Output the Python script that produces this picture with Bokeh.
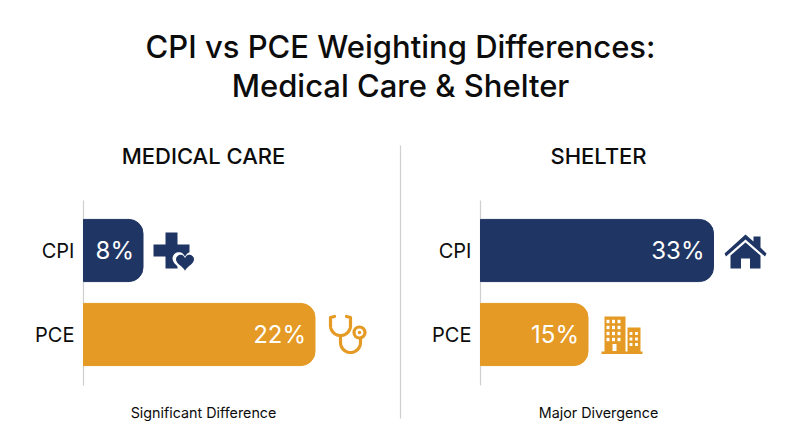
import numpy as np
from bokeh.core.properties import value
from bokeh.embed import file_html
from bokeh.resources import INLINE
from bokeh.plotting import figure
from bokeh.models import Range1d, LinearAxis, FixedTicker

FONT = "Inter"
FONT_M = "Inter Medium"
NAVY = "#1f3564"
ORANGE = "#e49a24"
GREY = "#cfcfcf"
INK = "#0c0c0c"

chart_title = ["CPI vs PCE Weighting Differences:", "Medical Care & Shelter"]
categories = ["PCE", "CPI"]
colors = [ORANGE, NAVY]
medical_values = [22, 8]
shelter_values = [15, 33]
panel_titles = ["MEDICAL CARE", "SHELTER"]
panel_notes = ["Significant Difference", "Major Divergence"]

W, H = 800, 447
p = figure(width=W, height=H, output_backend="svg", toolbar_location=None,
           x_range=Range1d(0, W), y_range=Range1d(H, 0),
           x_axis_type=None, y_axis_type=None, min_border=0,
           outline_line_color=None, background_fill_color="white", border_fill_color="white")
p.grid.visible = False


def value_range(v_lo, px_lo, v_hi, px_hi):
    k = (px_hi - px_lo) / (v_hi - v_lo)
    return Range1d(v_lo - px_lo / k, v_lo + (W - px_lo) / k)


p.extra_x_ranges = {
    "medical": value_range(8, 142.5, 22, 314.5),
    "shelter": value_range(15, 587.5, 33, 713),
}
k = 84
p.extra_y_ranges = {"cat": Range1d((334 - H) / k, 334 / k)}


def txt(x, y, s, size, color=INK, align="center", font=FONT_M, **kw):
    p.text(x=x, y=y, text=s, text_font=value(font), text_font_size=size, text_color=color,
           text_align=align, text_baseline="middle", **kw)


def panel(values, range_name, axis_x, note, title, cx):
    r = p.extra_x_ranges[range_name]
    scale = W / (r.end - r.start)
    base = r.start + axis_x / scale
    idx = list(range(len(categories)))
    p.hbar(y=idx, left=base, right=values, height=0.74, color=colors,
           x_range_name=range_name, y_range_name="cat", border_radius=(0, 14, 14, 0))
    ax = LinearAxis(y_range_name="cat", fixed_location=axis_x, bounds=(-0.607, 1.595),
                    ticker=FixedTicker(ticks=idx),
                    major_label_overrides={i: c for i, c in enumerate(categories)},
                    major_tick_line_color=None, minor_tick_line_color=None,
                    axis_line_color=GREY, axis_line_width=1.2, level="underlay",
                    major_label_text_font=FONT, major_label_text_font_size="20px",
                    major_label_text_color=INK, major_label_standoff=3)
    p.add_layout(ax, "left")
    txt([cx], [155.5], [title], "22px")
    txt([cx], [412], [note], "14.3px", font=FONT)
    txt(values, idx, [f"{v}%" for v in values], "24px", color="white", align="right",
        font=FONT, x_offset=-9, x_range_name=range_name, y_range_name="cat")


panel(medical_values, "medical", 83, panel_notes[0], panel_titles[0], 203)
panel(shelter_values, "shelter", 480, panel_notes[1], panel_titles[1], 598)

txt([400, 400], [46, 85], chart_title, "31px")

# divider
p.line([400, 400], [145, 418], line_color=GREY, line_width=1.2)


# --- icons (decoration, drawn in screen-sized units) ---
def poly(xs, ys, color):
    p.patch(xs, ys, fill_color=color, line_color=None)


def arc_pts(cx, cy, r, a0, a1, n=24):
    a = np.radians(np.linspace(a0, a1, n))
    return cx + r * np.cos(a), cy + r * np.sin(a)


# medical cross + heart
x0, y0 = 171, 250
poly([x0-6, x0+6, x0+6, x0+18, x0+18, x0+6, x0+6, x0-6, x0-6, x0-18, x0-18, x0-6],
     [y0-18, y0-18, y0-6, y0-6, y0+6, y0+6, y0+18, y0+18, y0+6, y0+6, y0-6, y0-6], NAVY)
hx, hy = 184.5, 261
t = np.linspace(0, 2*np.pi, 60)
hxs = np.sin(t)**3
hys = -(13*np.cos(t) - 5*np.cos(2*t) - 2*np.cos(3*t) - np.cos(4*t)) / 16
poly(hx + 12.5*hxs, hy + 12.5*hys, "white")
poly(hx + 9*hxs, hy + 9*hys, NAVY)

# stethoscope
lw = 3.2
style = dict(line_color=ORANGE, line_width=lw, line_cap="round", line_join="round")
lx, ly = arc_pts(340, 325, 10, 180, 90)
rx, ry = arc_pts(340, 325, 10, 90, 0)
p.line(np.r_[334, 330, lx, rx, 350, 346], np.r_[316, 317, ly, ry, 317, 316], **style)
bx, by = arc_pts(350, 342, 10, 180, 0)
p.line(np.r_[340, bx, 360], np.r_[335, by, 337], **style)
p.scatter(x=[359], y=[332], marker="circle", size=11, fill_color="white",
          line_color=ORANGE, line_width=lw)
p.scatter(x=[359], y=[332], marker="circle", size=3.5, fill_color=ORANGE, line_color=None)

# house
hx, hy = 745, 252
poly([hx-21, hx, hx+8, hx+8, hx+15, hx+15, hx+21, hx+19.5, hx, hx-19.5],
     [hy+1, hy-18, hy-11, hy-16, hy-16, hy-5, hy+1, hy+4, hy-13, hy+4], NAVY)
poly([hx-15, hx, hx+15, hx+15, hx+4.5, hx+4.5, hx-4.5, hx-4.5, hx-15],
     [hy+3, hy-10, hy+3, hy+16, hy+16, hy+6, hy+6, hy+16, hy+16], NAVY)

# buildings
poly([601, 642, 642, 601], [351, 351, 353.5, 353.5], ORANGE)
poly([604, 625, 625, 604], [316, 316, 352, 352], ORANGE)
poly([627, 640, 640, 627], [327, 327, 352, 352], ORANGE)
wx = [607.5, 613, 618.5]
wy = [321, 327, 333, 339]
p.rect(x=[a for a in wx for _ in wy], y=[b for _ in wx for b in wy], width=3, height=3.4,
       fill_color="white", line_color=None)
wx2 = [630.5, 636]
wy2 = [333, 338.5, 344]
p.rect(x=[a for a in wx2 for _ in wy2], y=[b for _ in wx2 for b in wy2], width=2.8, height=3,
       fill_color="white", line_color=None)
p.rect(x=[614], y=[347], width=4, height=7, fill_color="white", line_color=None)

open("out.html", "w").write(file_html(p, INLINE))
